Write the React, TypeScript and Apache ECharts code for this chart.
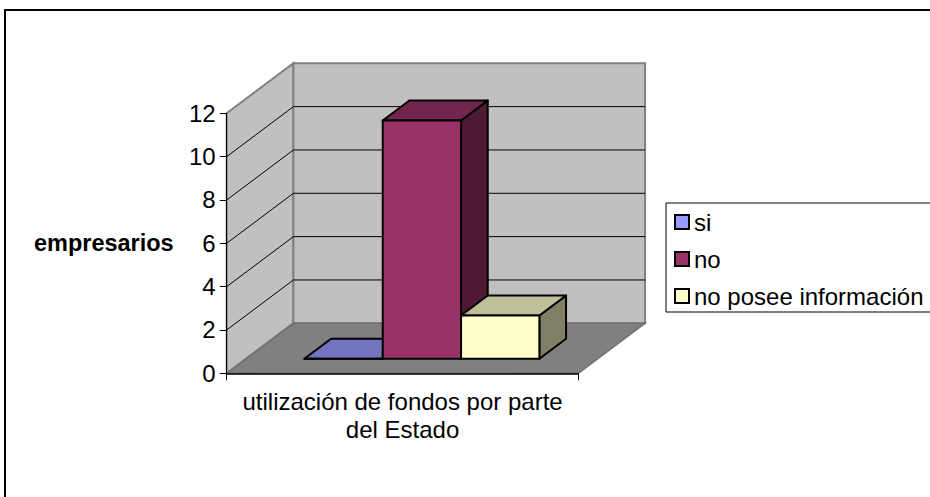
import React, { useEffect, useRef } from "react";
import * as echarts from "echarts";

// ---- data ----
const CATEGORIES = ["utilización de fondos por parte\ndel Estado"];
const SERIES_NAMES = ["si", "no", "no posee información"];
const SI_VALUES = [0];
const NO_VALUES = [11];
const NO_INFO_VALUES = [2];
const Y_TICKS = [0, 2, 4, 6, 8, 10, 12];

// ---- styles ----
const FRONT = ["#9999FF", "#993366", "#FFFFCC"];
const TOP = ["#7373BF", "#73264D", "#BFBF99"];
const SIDE = ["#4D4D80", "#4D1933", "#808066"];
const FONT = "'Liberation Sans', Arial, sans-serif";
const FS = 24;
const DX = 66.7; // depth offset of the 3D box
const DY = -50;
const BAR_FRONT = 0.29; // depth fraction where bars' front face sits
const BAR_DEPTH = 0.4; // bar depth fraction
const BAR_FRAC = 0.2227; // bar width as fraction of band

export default function App() {
  const ref = useRef<HTMLDivElement>(null);
  useEffect(() => {
    if (!ref.current) return;
    const chart = echarts.init(ref.current, null, { renderer: "svg" });
    const yMax = Y_TICKS[Y_TICKS.length - 1];

    const wallsRender = (params: any, api: any) => {
      const c0 = api.coord([0, 0]);
      const cT = api.coord([0, yMax]);
      const bw = api.size([1, 0])[0];
      const xL = c0[0] - bw / 2;
      const xR = c0[0] + bw / 2;
      const y0 = c0[1];
      const yT = cT[1];
      const children: any[] = [];
      children.push({
        type: "polygon",
        shape: { points: [[xL, y0], [xL, yT], [xL + DX, yT + DY], [xL + DX, y0 + DY]] },
        style: { fill: "#C0C0C0", stroke: "#808080", lineWidth: 2 },
      });
      children.push({
        type: "polygon",
        shape: { points: [[xL + DX, y0 + DY], [xL + DX, yT + DY], [xR + DX, yT + DY], [xR + DX, y0 + DY]] },
        style: { fill: "#C0C0C0", stroke: "#808080", lineWidth: 2 },
      });
      children.push({
        type: "polygon",
        shape: { points: [[xL, y0], [xR, y0], [xR + DX, y0 + DY], [xL + DX, y0 + DY]] },
        style: { fill: "#808080", stroke: "#707070", lineWidth: 1.5 },
      });
      Y_TICKS.filter((v) => v > 0 && v < yMax).forEach((v) => {
        const y = api.coord([0, v])[1];
        children.push({
          type: "polyline",
          shape: { points: [[xL, y], [xL + DX, y + DY], [xR + DX, y + DY]] },
          style: { fill: null, stroke: "#000", lineWidth: 1 },
        });
      });
      return { type: "group", children };
    };

    const barRender = (idx: number) => (params: any, api: any) => {
      const cat = api.value(0);
      const v = api.value(1);
      const base = api.coord([cat, 0]);
      const top = api.coord([cat, v]);
      const bw = api.size([1, 0])[0];
      const w = bw * BAR_FRAC;
      const x0 = base[0] - 1.5 * w + idx * w + BAR_FRONT * DX;
      const yb = base[1] + BAR_FRONT * DY;
      const yt = top[1] + BAR_FRONT * DY;
      const bdx = BAR_DEPTH * DX;
      const bdy = BAR_DEPTH * DY;
      const st = { stroke: "#000", lineWidth: 2, lineJoin: "round" };
      return {
        type: "group",
        children: [
          {
            type: "polygon",
            shape: { points: [[x0 + w, yt], [x0 + w + bdx, yt + bdy], [x0 + w + bdx, yb + bdy], [x0 + w, yb]] },
            style: { fill: SIDE[idx], ...st },
          },
          {
            type: "polygon",
            shape: { points: [[x0, yt], [x0 + w, yt], [x0 + w + bdx, yt + bdy], [x0 + bdx, yt + bdy]] },
            style: { fill: TOP[idx], ...st },
          },
          {
            type: "polygon",
            shape: { points: [[x0, yb], [x0, yt], [x0 + w, yt], [x0 + w, yb]] },
            style: { fill: FRONT[idx], ...st },
          },
        ],
      };
    };

    const valueSets = [SI_VALUES, NO_VALUES, NO_INFO_VALUES];

    chart.setOption({
      animation: false,
      textStyle: { fontFamily: FONT },
      graphic: [
        {
          type: "rect",
          shape: { x: 5, y: 10, width: 2000, height: 2000 },
          style: { fill: "none", stroke: "#000", lineWidth: 2 },
          z: 0,
        },
      ],
      legend: {
        orient: "vertical",
        left: 666,
        top: 203,
        padding: [6, 40, 3, 8],
        borderColor: "#000",
        borderWidth: 1,
        itemWidth: 14,
        itemHeight: 14,
        itemGap: 11,
        selectedMode: false,
        icon: "rect",
        textStyle: { fontSize: FS, color: "#000", fontFamily: FONT, lineHeight: 26 },
        data: SERIES_NAMES.map((n, i) => ({
          name: n,
          itemStyle: { color: FRONT[i], borderColor: "#000", borderWidth: 2 },
        })),
      },
      grid: {
        left: 226.7,
        top: 113.3,
        width: 351.7,
        height: 260,
        containLabel: false,
        outerBoundsMode: "none",
      },
      xAxis: {
        type: "category",
        data: CATEGORIES,
        z: 5,
        axisLine: { lineStyle: { color: "#000", width: 1.5 } },
        axisTick: { show: true, length: 7, lineStyle: { color: "#000" } },
        axisLabel: { fontSize: FS, color: "#000", lineHeight: 28, margin: 14, fontFamily: FONT },
        splitLine: { show: false },
      },
      yAxis: {
        type: "value",
        min: 0,
        max: 12,
        interval: 2,
        z: 5,
        name: "empresarios",
        nameLocation: "middle",
        nameRotate: 0,
        nameGap: 53,
        nameTextStyle: {
          fontSize: 23.5,
          fontWeight: "bold",
          color: "#000",
          align: "right",
          verticalAlign: "middle",
          fontFamily: FONT,
        },
        axisLine: { show: true, lineStyle: { color: "#000", width: 1 } },
        axisTick: { show: true, length: 7, lineStyle: { color: "#000" } },
        axisLabel: { fontSize: FS, color: "#000", margin: 11, fontFamily: FONT },
        splitLine: { show: false },
      },
      series: [
        {
          type: "custom",
          name: "walls",
          clip: false,
          z: 1,
          silent: true,
          renderItem: wallsRender,
          data: [[0, Y_TICKS[Y_TICKS.length - 1]]],
        },
        ...SERIES_NAMES.map((n, i) => ({
          type: "custom",
          name: n,
          clip: false,
          z: 2 + i,
          itemStyle: { color: FRONT[i], borderColor: "#000", borderWidth: 2 },
          renderItem: barRender(i),
          data: valueSets[i].map((v, k) => [k, v]),
        })),
      ],
    });
    return () => chart.dispose();
  }, []);
  return (
    <div
      ref={ref}
      style={{ position: "fixed", left: 0, top: 0, width: 930, height: 497, background: "#fff" }}
    />
  );
}
